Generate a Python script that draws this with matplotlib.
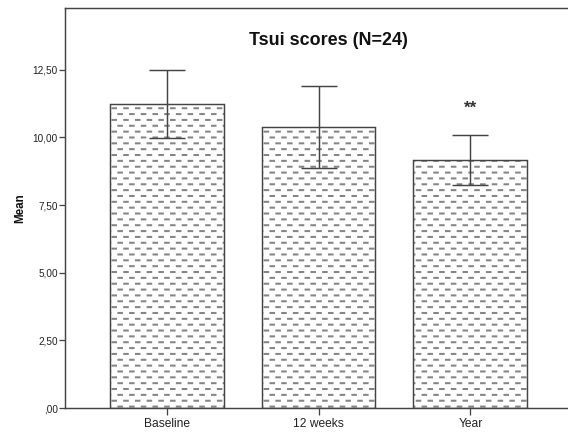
import numpy as np
import matplotlib
matplotlib.use("Agg")
import matplotlib.pyplot as plt
import matplotlib.hatch as mhatch
from matplotlib.path import Path

# ---- data ----
categories = ["Baseline", "12 weeks", "Year"]
means = [11.24, 10.37, 9.17]
errors = [1.26, 1.51, 0.92]
yticks = [0.0, 2.5, 5.0, 7.5, 10.0, 12.5]
ytick_labels = [",00", "2,50", "5,00", "7,50", "10,00", "12,50"]
title = "Tsui scores (N=24)"
ylabel = "Mean"
annot_text = "**"
annot_cat = 2
annot_y = 11.09


# ---- custom "brick dash" hatch (SPSS-like) ----
class DashHatch(mhatch.HatchPatternBase):
    rows = 20
    cols = 10
    length = 0.030

    def __init__(self, hatch, density):
        self.on = hatch.count('-') > 0
        self.num_vertices = (self.rows * self.cols * 2) if self.on else 0

    def set_vertices_and_codes(self, vertices, codes):
        k = 0
        for i in range(self.rows):
            y = (i + 0.5) / self.rows
            off = 0.5 * (i % 2)
            for j in range(self.cols):
                x0 = (j + off) / self.cols + 0.012
                vertices[k] = (x0, y)
                vertices[k + 1] = (x0 + self.length, y)
                codes[k] = Path.MOVETO
                codes[k + 1] = Path.LINETO
                k += 2


mhatch._hatch_types = [DashHatch if t is mhatch.HorizontalHatch else t
                       for t in mhatch._hatch_types]

DPI = 117
plt.rcParams['font.family'] = ['Liberation Sans', 'DejaVu Sans']
plt.rcParams['hatch.linewidth'] = 1.25

fig = plt.figure(figsize=(568.3 / DPI, 432.3 / DPI), dpi=DPI)
ax = fig.add_axes([65 / 568, 1 - 408 / 432, 1 - 65 / 568, 400 / 432])

x = np.arange(len(categories))
ax.bar(x, means, width=0.75, color='white', edgecolor='#858585',
       linewidth=0, hatch='-', zorder=2)
ax.bar(x, means, width=0.75, fill=False, edgecolor='#444444',
       linewidth=0.9, zorder=3)
ax.errorbar(x, means, yerr=errors, fmt='none', ecolor='#444444',
            elinewidth=0.9, capsize=10.8, capthick=0.9, zorder=4)

ax.text(annot_cat, annot_y, annot_text, ha='center', va='center',
        fontsize=10.5, fontweight='bold', color='#333333')

ax.set_xlim(-0.670, 2.645)
ax.set_ylim(0, 14.79)
ax.set_xticks(x)
ax.set_xticklabels(categories)
ax.set_yticks(yticks)
ax.set_yticklabels(ytick_labels)

ax.tick_params(axis='x', direction='out', length=4.3, width=0.8,
               color='#444444', labelsize=7.4, labelcolor='#222222', pad=1.5)
ax.tick_params(axis='y', direction='out', length=4.0, width=0.8,
               color='#444444', labelsize=6.2, labelcolor='#222222', pad=0.5)

for s in ['left', 'top', 'bottom']:
    ax.spines[s].set_color('#444444')
    ax.spines[s].set_linewidth(0.9)
ax.spines['right'].set_visible(False)

fig.text(328 / 568, 1 - 40 / 432, title, ha='center', va='center',
         fontsize=11, fontweight='bold', color='#111111')
fig.text(20 / 568, 1 - 208 / 432, ylabel, ha='center', va='center',
         rotation=90, fontsize=7.2, fontweight='bold', color='#111111')

fig.savefig("out.png", dpi=DPI)
